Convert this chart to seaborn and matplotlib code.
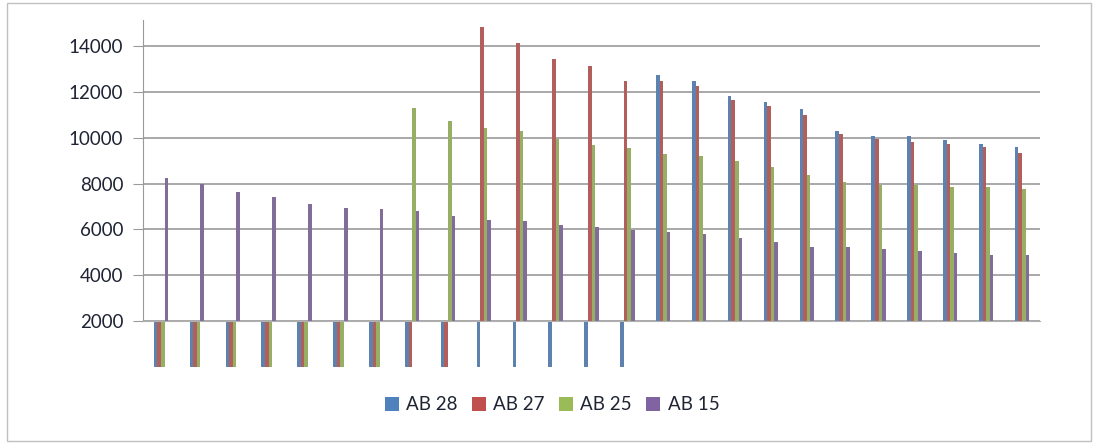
import matplotlib
matplotlib.use('Agg')
import matplotlib.pyplot as plt
from matplotlib.patches import Rectangle, Patch
import numpy as np
import pandas as pd
import seaborn as sns

# values (axis crosses at 2000)
categories = [str(i) for i in range(1, 26)]
series_names = ['AB 28', 'AB 27', 'AB 25', 'AB 15']
ab28 = [0] * 14 + [12750, 12500, 11850, 11560, 11260, 10290, 10070, 10070, 9900, 9750, 9600]
ab27 = [0] * 9 + [14840, 14160, 13430, 13130, 12500, 12500, 12250, 11640, 11400, 11020,
                  10150, 9940, 9830, 9750, 9600, 9360]
ab25 = [0] * 7 + [11310, 10750, 10440, 10300, 9950, 9670, 9550, 9280, 9220, 8975, 8740,
                  8380, 8090, 7960, 7960, 7840, 7840, 7770]
ab15 = [8260, 7970, 7640, 7420, 7100, 6940, 6870, 6800, 6580, 6420, 6350, 6175, 6100,
        5970, 5870, 5810, 5640, 5470, 5230, 5230, 5140, 5070, 4960, 4890, 4890]
yticks = [2000, 4000, 6000, 8000, 10000, 12000, 14000]
colors = ['#4F81BD', '#C0504D', '#9BBB59', '#8064A2']
cross = 2000


def main():
    rows = []
    for name, vals in zip(series_names, [ab28, ab27, ab25, ab15]):
        for c, v in zip(categories, vals):
            rows.append({'cat': c, 'series': name, 'value': v, 'rel': v - cross})
    df = pd.DataFrame(rows)

    sns.set_style('white')
    plt.rcParams['font.family'] = ['Lato', 'DejaVu Sans']

    fig = plt.figure(figsize=(10.93, 4.43), dpi=100)
    ax = fig.add_axes([143 / 1093, 1 - 366.7 / 443, 897 / 1093, 346.7 / 443])

    sns.barplot(data=df, x='cat', y='rel', hue='series', order=categories,
                hue_order=series_names, palette=colors, width=0.4, errorbar=None,
                bottom=cross, linewidth=0, legend=False, ax=ax)

    ax.set_ylim(0, 15150)
    ax.set_xlim(-0.5, len(categories) - 0.5)
    ax.set_yticks(yticks)
    ax.set_yticklabels([str(t) for t in yticks])
    ax.yaxis.grid(True, color='#9a9a9a', linewidth=1.2)
    ax.set_axisbelow(True)
    ax.set_xlabel('')
    ax.set_ylabel('')

    for s in ['top', 'right']:
        ax.spines[s].set_visible(False)
    ax.spines['left'].set_bounds(cross, 15150)
    ax.spines['left'].set_color('#9a9a9a')
    ax.spines['bottom'].set_position(('data', cross))
    ax.spines['bottom'].set_color('#b0b0b0')

    ax.set_xticks(np.arange(len(categories) + 1) - 0.5)
    ax.set_xticklabels([])
    ax.tick_params(axis='x', length=4, color='#c8c8c8', direction='out')
    ax.tick_params(axis='y', length=7.2, color='#9a9a9a', pad=7, labelsize=13.5,
                   labelcolor='#1e2433', left=True)

    handles = [Patch(facecolor=c, edgecolor='none') for c in colors]
    fig.legend(handles, series_names, loc='center', bbox_to_anchor=(552 / 1093, 1 - 405 / 443),
               ncol=4, frameon=False, fontsize=13.5, handlelength=0.75, handleheight=0.75,
               handletextpad=0.4, columnspacing=0.75, labelcolor='#1e2433')

    fig.patches.append(Rectangle((7 / 1093, 2 / 443), 1084 / 1093, 438 / 443,
                                 transform=fig.transFigure, fill=False,
                                 edgecolor='#c0c0c0', linewidth=1))

    fig.savefig('out.png', dpi=100)
    return 0


if __name__ == '__main__':
    main()
